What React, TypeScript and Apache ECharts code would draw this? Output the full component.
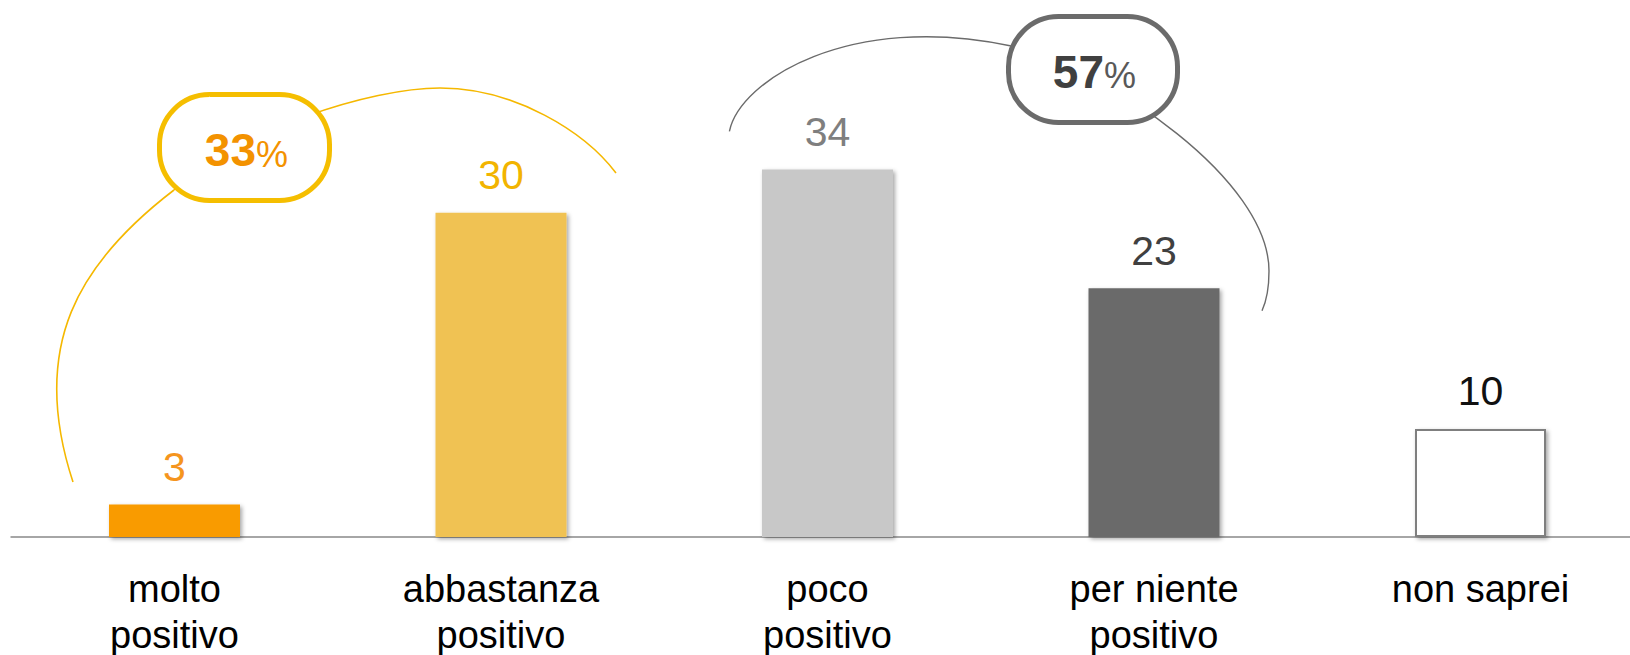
import React, { useEffect, useRef } from 'react';
import * as echarts from 'echarts';

const categories = ['molto\npositivo', 'abbastanza\npositivo', 'poco\npositivo', 'per niente\npositivo', 'non saprei'];
const values = [3, 30, 34, 23, 10];
const barColors = ['#F99B00', '#F0C253', '#C8C8C8', '#6B6B6B', '#FFFFFF'];
const labelColors = ['#F5951E', '#F2B400', '#7F7F7F', '#404040', '#111111'];
const groupTotals = ['33', '57'];
const groupTotalSuffix = '%';

const FONT = '"Liberation Sans", Arial, Helvetica, sans-serif';

export default function App() {
  const ref = useRef<HTMLDivElement>(null);

  useEffect(() => {
    if (!ref.current) return;
    const chart = echarts.init(ref.current, undefined, { renderer: 'svg' });

    const yellowLine = { stroke: '#F5B800', lineWidth: 1.6, fill: null };
    const grayLine = { stroke: '#6B6B6B', lineWidth: 1.4, fill: null };

    const option: any = {
      animation: false,
      backgroundColor: '#ffffff',
      grid: {
        left: 11.25,
        width: 1632.5,
        top: 104.6,
        height: 432.4,
        containLabel: false,
        outerBoundsMode: 'none',
      },
      xAxis: {
        type: 'category',
        data: categories,
        axisLine: { show: true, lineStyle: { color: '#A6A6A6', width: 2 } },
        axisTick: { show: false },
        axisLabel: {
          interval: 0,
          color: '#000000',
          fontFamily: FONT,
          fontSize: 38,
          lineHeight: 46,
          margin: 29,
        },
        splitLine: { show: false },
      },
      yAxis: {
        type: 'value',
        min: 0,
        max: 40,
        show: false,
        splitLine: { show: false },
      },
      series: [
        {
          type: 'bar',
          barWidth: 131,
          data: values.map((v, i) => ({
            value: v,
            itemStyle: {
              color: barColors[i],
              borderColor: i === 4 ? '#7F7F7F' : barColors[i],
              borderWidth: i === 4 ? 2 : 0,
              shadowColor: 'rgba(0,0,0,0.35)',
              shadowBlur: 4,
              shadowOffsetX: 2,
              shadowOffsetY: 2,
            },
            label: {
              show: true,
              position: 'top',
              distance: 17,
              color: labelColors[i],
              fontFamily: FONT,
              fontSize: 41,
              lineHeight: 41,
            },
          })),
        },
      ],
      graphic: [
        // yellow arc (left group)
        { type: 'bezierCurve', z: 100, shape: { x1: 73, y1: 482, cpx1: 28, cpy1: 345, cpx2: 80, cpy2: 262, x2: 174, y2: 190 }, style: yellowLine },
        { type: 'bezierCurve', z: 100, shape: { x1: 174, y1: 190, cpx1: 240, cpy1: 130, cpx2: 370, cpy2: 88, x2: 440, y2: 88 }, style: yellowLine },
        { type: 'bezierCurve', z: 100, shape: { x1: 440, y1: 88, cpx1: 515, cpy1: 88, cpx2: 585, cpy2: 132, x2: 616, y2: 173 }, style: yellowLine },
        // gray arc (right group)
        { type: 'bezierCurve', z: 100, shape: { x1: 729.4, y1: 131.4, cpx1: 740, cpy1: 80, cpx2: 850, cpy2: 12, x2: 1010, y2: 45.7 }, style: grayLine },
        { type: 'bezierCurve', z: 100, shape: { x1: 1010, y1: 45.7, cpx1: 1110, cpy1: 70.7, cpx2: 1269, cpy2: 180, x2: 1269, y2: 271 }, style: grayLine },
        { type: 'bezierCurve', z: 100, shape: { x1: 1269, y1: 271, cpx1: 1269, cpy1: 290, cpx2: 1266, cpy2: 302, x2: 1262, y2: 310.7 }, style: grayLine },
        // bubbles
        { type: 'rect', z: 101, shape: { x: 159.5, y: 94.5, width: 170, height: 106, r: 50 }, style: { fill: '#ffffff', stroke: '#F5BE00', lineWidth: 5 } },
        { type: 'rect', z: 101, shape: { x: 1008.5, y: 16.5, width: 169, height: 106, r: 50 }, style: { fill: '#ffffff', stroke: '#6B6B6B', lineWidth: 5 } },
        // bubble texts
        { type: 'text', z: 102, x: 256, y: 150, style: { text: groupTotals[0], fill: '#F39200', font: `bold 46px ${FONT}`, align: 'right', verticalAlign: 'middle', textAlign: 'right', textVerticalAlign: 'middle' } },
        { type: 'text', z: 102, x: 256, y: 154.5, style: { text: groupTotalSuffix, fill: '#F39200', font: `36px ${FONT}`, align: 'left', verticalAlign: 'middle', textAlign: 'left', textVerticalAlign: 'middle' } },
        { type: 'text', z: 102, x: 1104, y: 72, style: { text: groupTotals[1], fill: '#404040', font: `bold 46px ${FONT}`, align: 'right', verticalAlign: 'middle', textAlign: 'right', textVerticalAlign: 'middle' } },
        { type: 'text', z: 102, x: 1104, y: 75.5, style: { text: groupTotalSuffix, fill: '#595959', font: `36px ${FONT}`, align: 'left', verticalAlign: 'middle', textAlign: 'left', textVerticalAlign: 'middle' } },
      ],
    };

    chart.setOption(option);
    return () => chart.dispose();
  }, []);

  return (
    <div
      ref={ref}
      style={{ position: 'fixed', left: 0, top: 0, width: 1630, height: 655, background: '#fff' }}
    />
  );
}
